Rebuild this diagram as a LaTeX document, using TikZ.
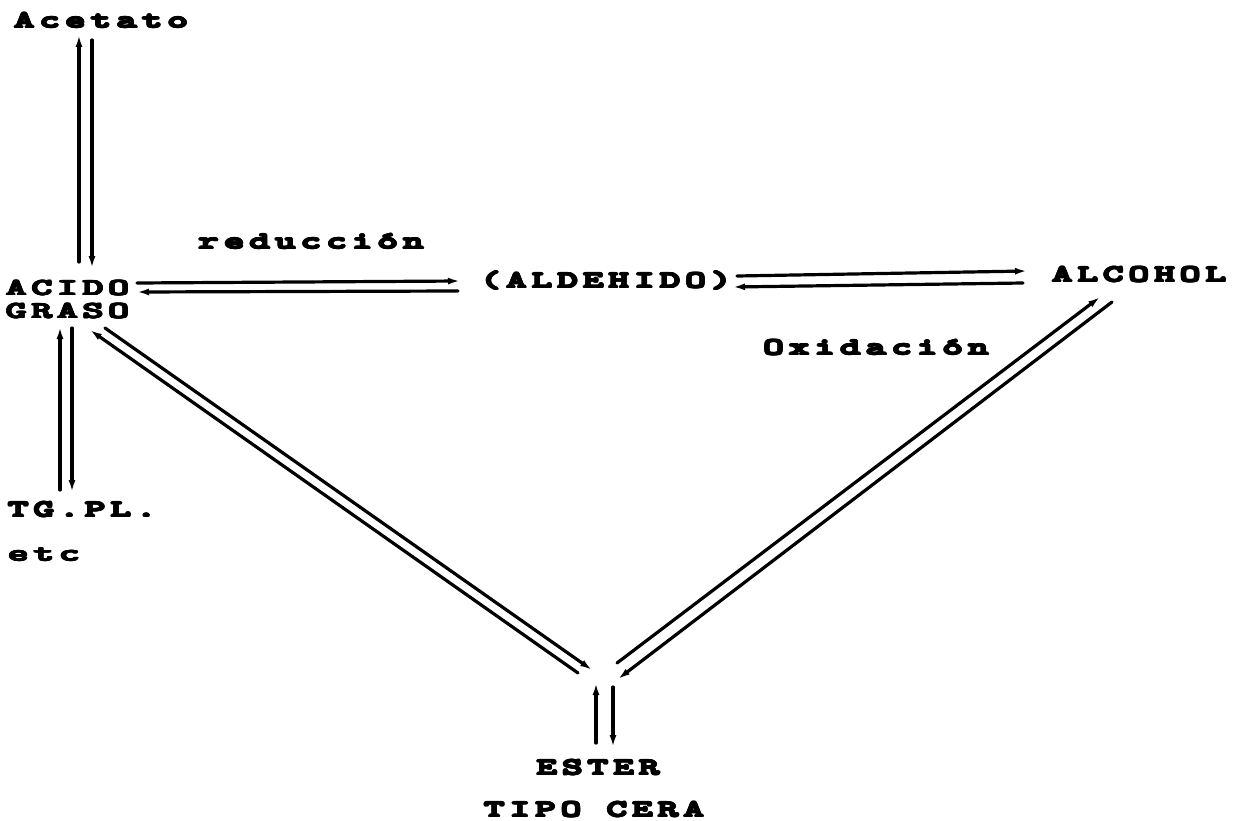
\documentclass[tikz,border=0pt]{standalone}
\usepackage{fontspec}
\usepackage{graphicx}
\usepackage[copies]{contour}
\usepackage{tikz}
\usetikzlibrary{positioning,calc,arrows.meta}
\newfontfamily\lblfont{Latin Modern Mono}[LetterSpace=14]
\contourlength{0.85pt}
\contournumber{12}
\newcommand\chem[1]{\scalebox{1.7}[1]{\contour{black}{#1}}}

\begin{document}
\begin{tikzpicture}[x=1pt, y=-1pt, >={Latex[length=12pt,width=7pt]}, line cap=round, line join=round,
  lbl/.style={font=\lblfont\fontsize{23}{23}\selectfont, inner sep=0pt},
  flow/.style={->, line width=3.2pt}]
  \useasboundingbox (0,0) rectangle (1244,821);
  % compounds
  \node[lbl] (acetato) at (101,21) {\chem{Acetato}};
  \node[lbl, align=left, anchor=west] (acido) at (6,300) {\chem{ACIDO}\\\chem{GRASO}};
  \node[lbl] (aldehido) at (606,281) {\chem{(ALDEHIDO)}};
  \node[lbl] (alcohol) at (1139,275) {\chem{ALCOHOL}};
  \node[lbl, anchor=west] (tgpl) at (8,510) {\chem{TG.PL.}};
  \node[lbl, anchor=west] (etc) at (8,555) {\chem{etc}};
  \node[lbl] (ester) at (598,768) {\chem{ESTER}};
  \node[lbl] (cera) at (594,810) {\chem{TIPO CERA}};
  % steps
  \node[lbl] (reduccion) at (311,242) {\chem{reducción}};
  \node[lbl] (oxidacion) at (876,348) {\chem{Oxidación}};
  % arrow ends
  \coordinate (p1) at (79,262);   \coordinate (p2) at (79,35);
  \coordinate (p3) at (92,40);    \coordinate (p4) at (92,268);
  \coordinate (q1) at (137,283);  \coordinate (q2) at (460,281);
  \coordinate (q3) at (458,291);  \coordinate (q4) at (137,292);
  \coordinate (r1) at (737,276);  \coordinate (r2) at (1027,271);
  \coordinate (r3) at (1023,283); \coordinate (r4) at (733,287);
  \coordinate (s1) at (60,490);   \coordinate (s2) at (60,327);
  \coordinate (s3) at (72,328);   \coordinate (s4) at (72,492);
  \coordinate (t1) at (105,328);  \coordinate (t2) at (592,670);
  \coordinate (t3) at (578,673);  \coordinate (t4) at (90,330);
  \coordinate (u1) at (617,663);  \coordinate (u2) at (1100,297);
  \coordinate (u3) at (1112,302); \coordinate (u4) at (618,679);
  \coordinate (v1) at (596,743);  \coordinate (v2) at (596,683);
  \coordinate (v3) at (613,687);  \coordinate (v4) at (613,747);
  % equilibria
  \draw[flow] (p1) -- (p2);
  \draw[flow] (p3) -- (p4);
  \draw[flow] (q1) -- (q2);
  \draw[flow] (q3) -- (q4);
  \draw[flow] (r1) -- (r2);
  \draw[flow] (r3) -- (r4);
  \draw[flow] (s1) -- (s2);
  \draw[flow] (s3) -- (s4);
  \draw[flow] (t1) -- (t2);
  \draw[flow] (t3) -- (t4);
  \draw[flow] (u1) -- (u2);
  \draw[flow] (u3) -- (u4);
  \draw[flow] (v1) -- (v2);
  \draw[flow] (v3) -- (v4);
\end{tikzpicture}
\end{document}
